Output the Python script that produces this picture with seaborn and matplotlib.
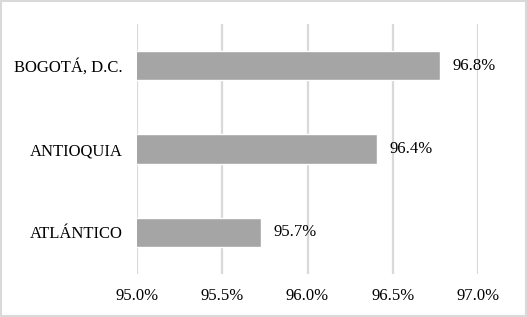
import matplotlib
matplotlib.use("Agg")
import matplotlib.pyplot as plt
import pandas as pd
import seaborn as sns
from matplotlib.patches import Rectangle

departments = ["BOGOTÁ, D.C.", "ANTIOQUIA", "ATLÁNTICO"]
coverage = [96.78, 96.41, 95.73]
x_ticks = [95.0, 95.5, 96.0, 96.5, 97.0]

df = pd.DataFrame({"dept": departments, "coverage": coverage})

sns.set_theme(style="white")
plt.rcParams["font.family"] = ["Liberation Serif", "DejaVu Serif"]

fig = plt.figure(figsize=(5.27, 3.17), dpi=100)
ax = fig.add_axes([137 / 527, 1 - 274 / 317, (478 - 137) / 527, (274 - 24) / 317])

sns.barplot(data=df, x="coverage", y="dept", orient="h", color="#a5a5a5",
            width=0.35, saturation=1, ax=ax, zorder=2)

ax.set_xlim(95.0, 97.0)
ax.set_xticks(x_ticks)
ax.set_xticklabels([f"{t:.1f}%" for t in x_ticks], fontsize=12, color="black")
ax.tick_params(axis="y", labelsize=12, labelcolor="black", pad=10, length=0)
ax.tick_params(axis="x", pad=10, length=0)
ax.set_xlabel("")
ax.set_ylabel("")
ax.grid(axis="x", color="#d9d9d9", linewidth=1.6, zorder=0)
ax.grid(axis="y", visible=False)
for s in ax.spines.values():
    s.set_visible(False)

for c in ax.containers:
    ax.bar_label(c, labels=[f"{v:.1f}%" for v in coverage], padding=9,
                 fontsize=12, color="black")

fig.patches.append(Rectangle((0.002, 0.003), 0.996, 0.994, transform=fig.transFigure,
                             fill=False, edgecolor="#d9d9d9", linewidth=1.5))

fig.savefig("out.png", dpi=100)
